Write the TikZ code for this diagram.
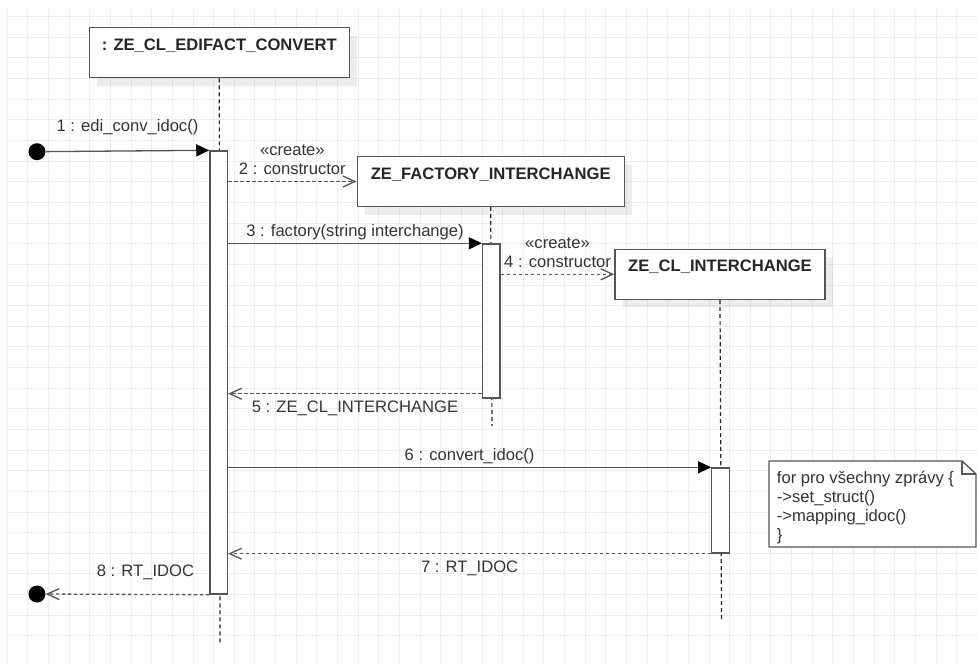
\documentclass[tikz,border=0pt]{standalone}
\usepackage{fontspec}
\setmainfont{Liberation Sans}
\usetikzlibrary{arrows.meta,shadows,positioning}
\definecolor{linegray}{HTML}{555555}
\definecolor{txtgray}{HTML}{333333}
\definecolor{gridgray}{HTML}{EDEDED}

\begin{document}
\begin{tikzpicture}[x=1pt,y=-1pt,
  obj/.style={draw=linegray,line width=1.4pt,fill=white,minimum width=#1,minimum height=50,inner sep=0,
    text height=12,text depth=17,text=black!85,font=\bfseries\fontsize{16.6}{19}\selectfont,
    drop shadow={shadow xshift=8pt,shadow yshift=-8pt,fill=black,opacity=0.07}},
  act/.style={draw=linegray,line width=1.4pt,fill=white,minimum width=17.5,minimum height=#1,inner sep=0},
  dot/.style={circle,fill=black,minimum size=17,inner sep=0},
  life/.style={line width=1.2pt,black!85,dash pattern=on 4pt off 3pt},
  call/.style={line width=1.3pt,linegray,-{Triangle[length=13pt,width=12pt,color=black]}},
  create/.style={line width=1.3pt,linegray,dash pattern=on 3.5pt off 2.5pt,-{Straight Barb[length=12pt,width=11pt]}},
  reply/.style={create},
  msg/.style={font=\fontsize{16.6}{19}\selectfont,text=txtgray,inner sep=0,anchor=base}]

\useasboundingbox (0,0) rectangle (977,664);

% grid
\foreach \i in {0,...,46}
  \draw[gridgray,line width=1pt] ({7.3+\i*20.64},7) -- ({7.3+\i*20.64},664);
\foreach \j in {0,...,30}
  \draw[gridgray,line width=1pt] (7,{16.7+\j*20.64}) -- (977,{16.7+\j*20.64});

% objects
\node[obj=260] (conv) at (219.3,52.7) {: ZE\_CL\_EDIFACT\_CONVERT};
\node[obj=267] (fac) at (490.7,181.5) {ZE\_FACTORY\_INTERCHANGE};
\node[obj=210] (inter) at (720,274.3) {ZE\_CL\_INTERCHANGE};

\coordinate (end1) at (220,645);
\coordinate (end2) at (492,426);
\coordinate (end3) at (721.5,621);
\draw[life] (conv.south) -- (end1);
\draw[life] (fac.south) -- (end2);
\draw[life] (inter.south) -- (end3);

% activations
\node[act=443] (act1) at (218.7,372.5) {};
\node[act=154] (act2) at (491.3,321) {};
\node[act=85] (act3) at (720.5,510.5) {};

\node[dot] (start) at (37,151.7) {};
\node[dot] (stop) at (37,594) {};

% messages
\draw[call] (start) -- (act1.north west) node[msg,midway,yshift=19pt] {1 : edi\_conv\_idoc()};
\draw[create] (act1.east |- fac.west) -- (fac.west)
  node[msg,midway,yshift=25.7pt] {«create»} node[msg,midway,yshift=6.7pt] {2 : constructor};
\draw[call] (act1.east |- act2.north) -- (act2.north west) node[msg,midway,yshift=7pt] {3 : factory(string interchange)};
\draw[create] (act2.east |- inter.west) -- (inter.west)
  node[msg,midway,yshift=26pt] {«create»} node[msg,midway,yshift=7pt] {4 : constructor};
\coordinate (r5) at ([yshift=5pt]act2.south west);
\draw[reply] (r5) -- (act1.east |- r5) node[msg,midway,yshift=-19pt] {5 : ZE\_CL\_INTERCHANGE};
\draw[call] (act1.east |- act3.north) -- (act3.north west) node[msg,midway,yshift=7pt] {6 : convert\_idoc()};
\draw[reply] (act3.south west) -- (act1.east |- act3.south) node[msg,midway,yshift=-18.4pt] {7 : RT\_IDOC};
\draw[reply] (act1.south west) -- (stop) node[msg,pos=0.39,yshift=18pt] {8 : RT\_IDOC};

% note
\draw[linegray,line width=1.4pt,fill=white] (769,461) -- (962,461) -- (976,474) -- (976,547) -- (769,547) -- cycle;
\draw[linegray,line width=1.4pt] (962,461) -- (962,474) -- (976,474);
\node[font=\fontsize{16.6}{18.8}\selectfont,text=txtgray,inner sep=0,anchor=north west,align=left] (notetxt) at (776.7,471.4)
  {for pro všechny zprávy \{\\->set\_struct()\\->mapping\_idoc()\\\}};

\end{tikzpicture}
\end{document}
